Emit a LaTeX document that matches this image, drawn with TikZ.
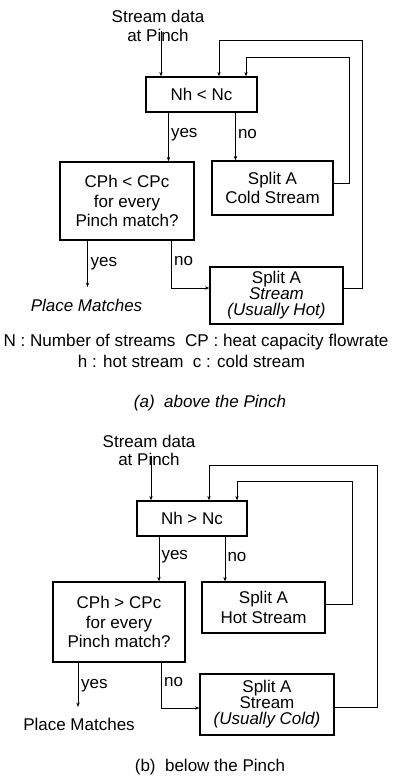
\documentclass[tikz,border=0pt]{standalone}
\usepackage{fontspec}
\setmainfont{Liberation Sans}
\usetikzlibrary{arrows.meta,calc}
\begin{document}
\begin{tikzpicture}[x=1pt,y=-1pt,
  txt/.style={font=\fontsize{17}{19}\selectfont, inner sep=0pt},
  box/.style={draw, line width=1.2pt, align=center, inner sep=0pt, font=\fontsize{17}{19.5}\selectfont},
  tbox/.style={box, font=\fontsize{17}{16}\selectfont},
  arr/.style={line width=1pt, -{Stealth[length=4.5pt,width=3.4pt]}},
  lbl/.style={txt, anchor=west}
]
\useasboundingbox (0,0) rectangle (394,779);
% ---------------- (a) ----------------
\node[txt, anchor=base] (in1a) at (158,22) {Stream data};
\node[txt, anchor=base] (in1b) at (158,41) {at Pinch};
\coordinate (s1) at (161,31);
\node[box, minimum width=111pt, minimum height=35pt] (n1) at (201.5,94.5) {Nh < Nc};
\node[box, minimum width=134pt, minimum height=78pt] (cp1) at (127,201) {CPh < CPc\\for every\\Pinch match?};
\node[box, minimum width=121pt, minimum height=54pt] (sc1) at (272.5,188) {Split A\\Cold Stream};
\node[tbox, minimum width=133pt, minimum height=57pt] (ss1) at (276.5,295.5) {Split A\\\textit{Stream}\\\textit{(Usually Hot)}};
\node[txt, font=\fontsize{17}{19}\selectfont\itshape] (pm1) at (86.5,305) {Place Matches};
\coordinate (e1) at (87.5,287);

\draw[arr] (s1) -- (s1 |- n1.north);
\draw[arr] ([xshift=-33]n1.south) -- ([xshift=-33]n1.south |- cp1.north)
  node[lbl, pos=0.45, xshift=2pt] (y1) {yes};
\draw[arr] ([xshift=34]n1.south) -- ([xshift=34]n1.south |- sc1.north)
  node[lbl, pos=0.45, xshift=2pt] (no1) {no};
\draw[arr] ($(sc1.east)+(0,-5)$) -| (349,57) -| ([xshift=44.5]n1.north);
\draw[arr] ($(ss1.east)+(0,-7.5)$) -| (362,40) -| ([xshift=17.5]n1.north);
\draw[arr] (cp1.south -| e1) -- (e1);
\node[lbl] (y1b) at (90.5,264) {yes};
\draw[arr] ([xshift=44]cp1.south) |- ($(ss1.west)+(0,-7.5)$);
\node[lbl] (no1b) at (174,261) {no};

\node[txt, font=\fontsize{17.1}{19}\selectfont] (leg1) at (196,342) {N : Number of streams\ \ CP : heat capacity flowrate};
\node[txt] (leg2) at (191.5,361) {h : hot stream\ \ c : cold stream};
\node[txt, font=\fontsize{17}{19}\selectfont\itshape] (capa) at (210,403) {(a)\ \ above the Pinch};

% ---------------- (b) ----------------
\node[txt, anchor=base] (in2a) at (149,447) {Stream data};
\node[txt, anchor=base] (in2b) at (149,465) {at Pinch};
\coordinate (s2) at (151,456);
\node[box, minimum width=110pt, minimum height=35pt] (n2) at (192,518.5) {Nh > Nc};
\node[box, minimum width=132pt, minimum height=80pt] (cp2) at (119,622) {CPh > CPc\\for every\\Pinch match?};
\node[box, minimum width=123pt, minimum height=51pt] (sh2) at (263.5,607.5) {Split A\\Hot Stream};
\node[tbox, minimum width=134pt, minimum height=61pt] (ss2) at (267,704.5) {Split A\\Stream\\\textit{(Usually Cold)}};
\node[txt] (pm2) at (79,724) {Place Matches};
\coordinate (e2) at (78,707);

\draw[arr] (s2) -- (s2 |- n2.north);
\draw[arr] ([xshift=-33]n2.south) -- ([xshift=-33]n2.south |- cp2.north)
  node[lbl, pos=0.45, xshift=2pt] (y2) {yes};
\draw[arr] ([xshift=33]n2.south) -- ([xshift=33]n2.south |- sh2.north)
  node[lbl, pos=0.45, xshift=2pt] (no2) {no};
\draw[arr] ($(sh2.east)+(0,-3.5)$) -| (352,481) -| ([xshift=45]n2.north);
\draw[arr] ($(ss2.east)+(0,2.5)$) -| (377,465) -| ([xshift=17]n2.north);
\draw[arr] (cp2.south -| e2) -- (e2);
\node[lbl] (y2b) at (81,686) {yes};
\draw[arr] ([xshift=42]cp2.south) |- ($(ss2.west)+(0,3.5)$);
\node[lbl] (no2b) at (164,682) {no};

\node[txt] (capb) at (210,767) {(b)\ \ below the Pinch};
\end{tikzpicture}
\end{document}
